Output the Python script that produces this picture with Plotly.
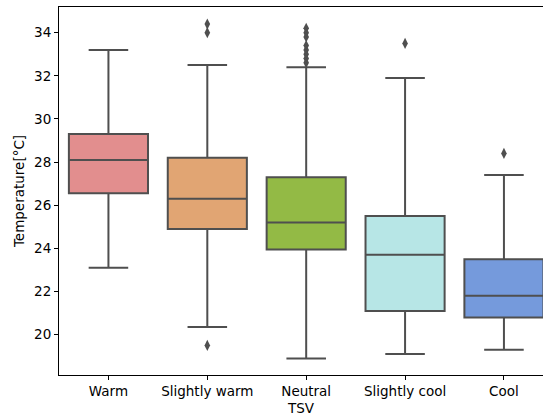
import plotly.graph_objects as go

# Thermal sensation vote categories and box statistics (°C)
categories = ["Warm", "Slightly warm", "Neutral", "Slightly cool", "Cool"]
lower_whisker = [23.1, 20.35, 18.9, 19.1, 19.3]
q1 = [26.55, 24.9, 23.95, 21.1, 20.8]
median = [28.1, 26.3, 25.2, 23.7, 21.8]
q3 = [29.3, 28.2, 27.3, 25.5, 23.5]
upper_whisker = [33.2, 32.5, 32.4, 31.9, 27.4]

# Outlying observations per category
outliers = {
    "Warm": [],
    "Slightly warm": [34.4, 34.0, 19.5],
    "Neutral": [34.2, 34.0, 33.8, 33.4, 33.2, 33.0, 32.8, 32.6],
    "Slightly cool": [33.5],
    "Cool": [28.4],
}

fill_colors = ["#e28e8e", "#e1a573", "#93ba45", "#b7e6e6", "#759adc"]
line_color = "#4f4f4f"

fig = go.Figure()
for i, cat in enumerate(categories):
    fig.add_trace(go.Box(
        x=[i],
        q1=[q1[i]], median=[median[i]], q3=[q3[i]],
        lowerfence=[lower_whisker[i]], upperfence=[upper_whisker[i]],
        width=0.8,
        whiskerwidth=0.5,
        fillcolor=fill_colors[i],
        line=dict(color=line_color, width=2),
        boxpoints=False,
        showlegend=False,
        hoverinfo="skip",
    ))
    pts = outliers[cat]
    if pts:
        fig.add_trace(go.Scatter(
            x=[i] * len(pts), y=pts, mode="markers",
            marker=dict(symbol="diamond-tall", size=8, color=line_color,
                        line=dict(width=0)),
            showlegend=False, hoverinfo="skip",
        ))

font = dict(family="DejaVu Sans", size=13.5, color="#000000")
fig.update_layout(
    width=543, height=419,
    margin=dict(l=59, r=0, t=7, b=44),
    plot_bgcolor="white", paper_bgcolor="white",
    font=font,
)
fig.update_xaxes(
    range=[-0.5, 4.395],
    tickmode="array", tickvals=list(range(len(categories))), ticktext=categories,
    showline=True, linecolor="#000000", linewidth=1, mirror=True,
    ticks="outside", ticklen=4, tickcolor="#000000",
    showgrid=False, zeroline=False,
    title=dict(text="TSV", font=font, standoff=5),
    tickfont=font,
)
fig.update_yaxes(
    range=[18.13, 35.19],
    tickmode="array", tickvals=[20, 22, 24, 26, 28, 30, 32, 34],
    showline=True, linecolor="#000000", linewidth=1, mirror=False,
    ticks="outside", ticklen=4, tickcolor="#000000",
    showgrid=False, zeroline=False,
    title=dict(text="Temperature[°C]", font=font, standoff=6),
    tickfont=font,
)

fig.write_html("out.html")
